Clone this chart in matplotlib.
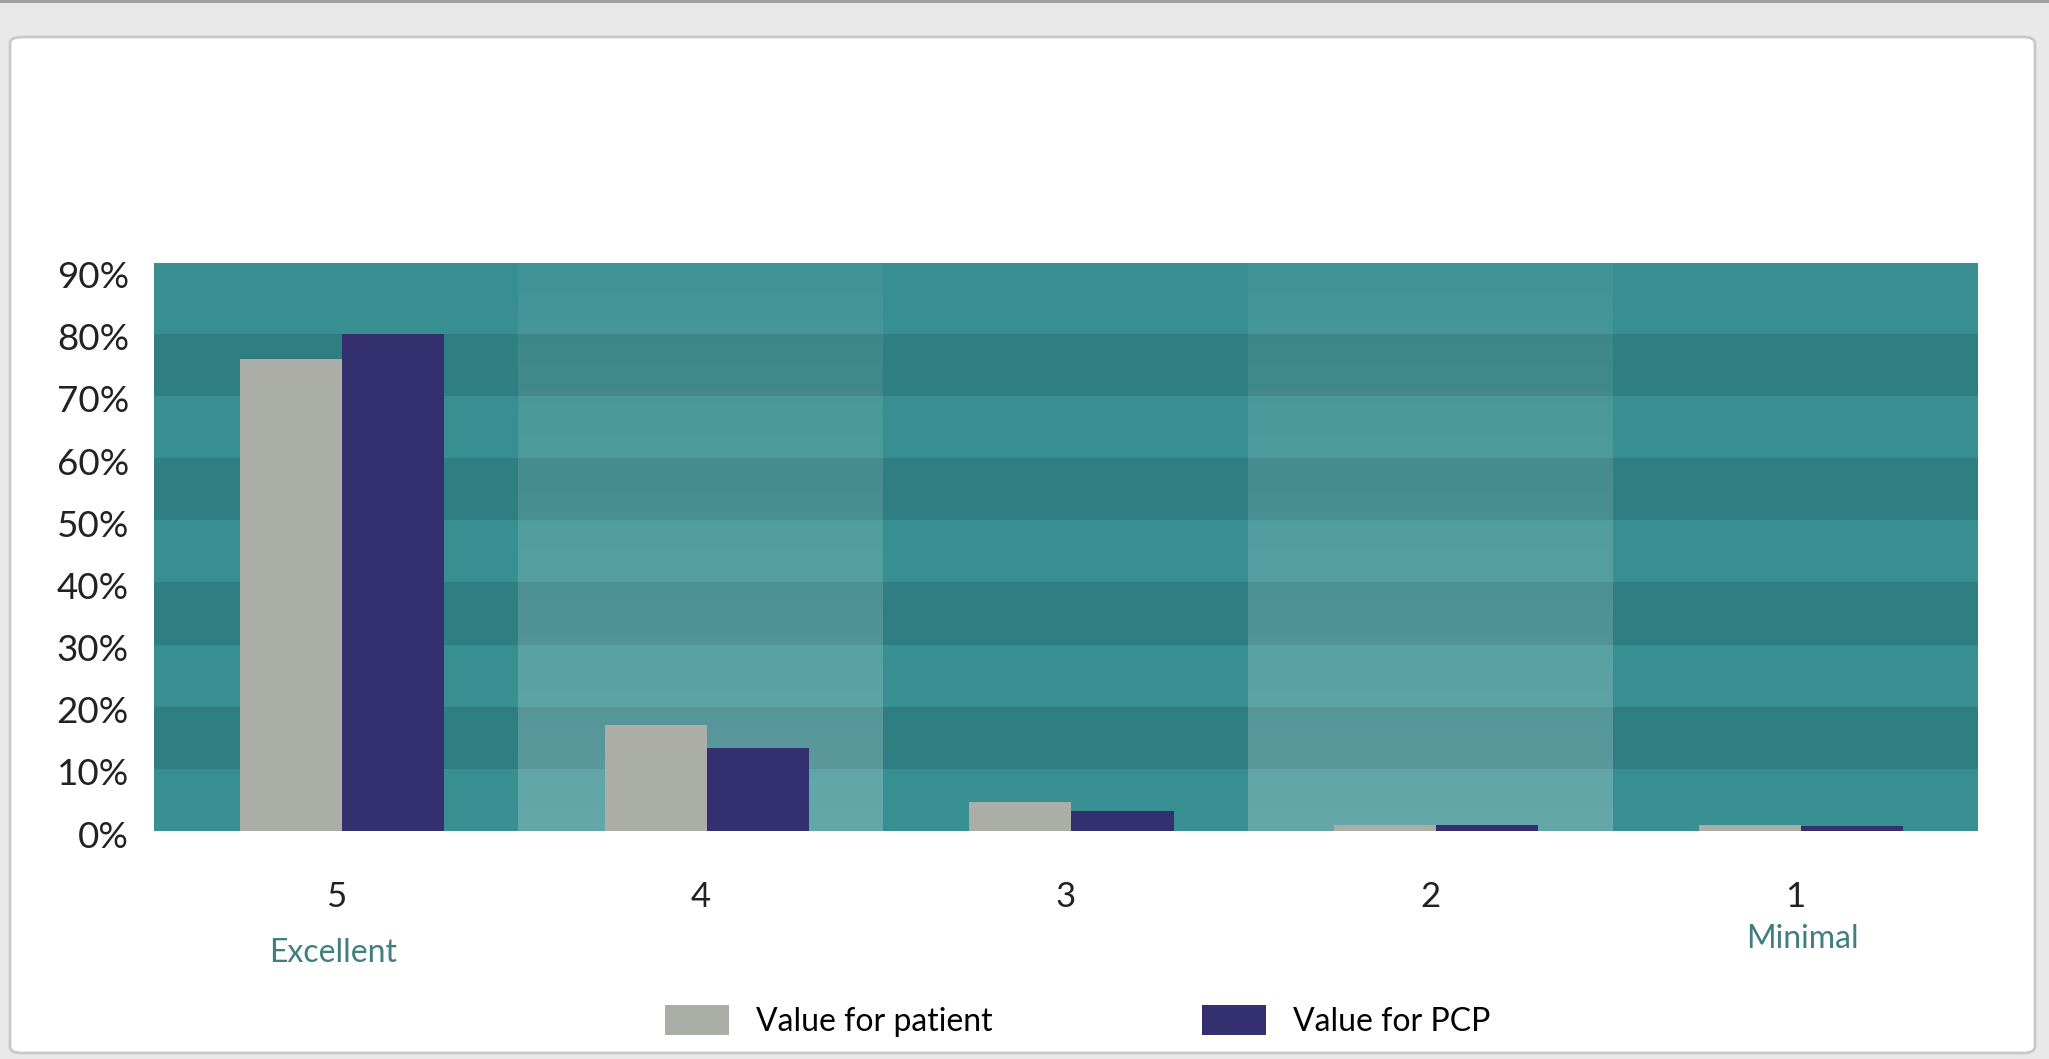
import numpy as np
import matplotlib
matplotlib.use("Agg")
import matplotlib.pyplot as plt
from matplotlib.patches import FancyBboxPatch, Rectangle
from matplotlib.colors import to_rgb
from matplotlib.transforms import ScaledTranslation

plt.rcParams['font.family'] = ['Lato', 'DejaVu Sans']

ratings = ["5", "4", "3", "2", "1"]
patient = [76, 17, 4.7, 1.0, 0.9]
pcp = [80, 13.3, 3.2, 1.0, 0.8]
yticks = [0, 10, 20, 30, 40, 50, 60, 70, 80, 90]
ytop = 91.4

c_patient = "#abaea7"
c_pcp = "#343070"
c_light = to_rgb("#378f91")
c_dark = to_rgb("#2f7e82")

fig = plt.figure(figsize=(20.49, 10.59), dpi=100, facecolor="#e9e9e9")

# white card behind the chart
card = FancyBboxPatch((10 / 2049, 1 - 1053 / 1059), 2025 / 2049, 1016 / 1059,
                      boxstyle="round,pad=0,rounding_size=0.006",
                      transform=fig.transFigure, facecolor="white",
                      edgecolor="#c9c9c9", linewidth=2, zorder=-2)
fig.patches.append(card)
fig.patches.append(Rectangle((0, 1 - 3 / 1059), 1, 3 / 1059, transform=fig.transFigure,
                             facecolor="#a0a0a0", edgecolor="none", zorder=-2))

ax = fig.add_axes([154 / 2049, 1 - 831 / 1059, 1824 / 2049, 568 / 1059])
ax.patch.set_visible(False)
ax.set_xlim(-0.5, len(ratings) - 0.5)
ax.set_ylim(0, ytop)

# striped background, columns 4 and 2 washed out towards the bottom
rows = 914
yv = (np.arange(rows) + 0.5) / rows * ytop
img = np.zeros((rows, len(ratings), 3))
for j in range(len(ratings)):
    for i, y in enumerate(yv):
        band = min(int(y // 10), 8)
        base = np.array(c_light if band % 2 == 0 else c_dark)
        if j % 2 == 1:
            t = 0.05 + 0.2 * (1 - y / ytop)
            base = base * (1 - t) + np.array([0.93, 0.95, 0.96]) * t
        img[i, j] = base
ax.imshow(img, extent=(-0.5, len(ratings) - 0.5, 0, ytop), origin="lower",
          aspect="auto", interpolation="nearest", zorder=0)

x = np.arange(len(ratings))
w = 0.28
ax.bar(x - w / 2 + 0.015, patient, width=w, color=c_patient, label="Value for patient", zorder=2)
ax.bar(x + w / 2 + 0.015, pcp, width=w, color=c_pcp, label="Value for PCP", zorder=2)

for s in ax.spines.values():
    s.set_visible(False)
ax.set_xticks(x)
ax.set_xticklabels(ratings)
ax.set_yticks(yticks)
ax.set_yticklabels([f"{v}%" for v in yticks])
ax.tick_params(axis="x", length=0, pad=36, labelsize=25, labelcolor="#222222")
ax.tick_params(axis="y", length=0, pad=18, labelsize=26.5, labelcolor="#222222")
shift = ScaledTranslation(0, -3 / 100, fig.dpi_scale_trans)
for lbl in ax.get_yticklabels():
    lbl.set_transform(lbl.get_transform() + shift)

ax.text(-0.01, -0.215, "Excellent", transform=ax.get_xaxis_transform(),
        ha="center", va="center", fontsize=23, color="#3f7f80")
ax.text(4.02, -0.19, "Minimal", transform=ax.get_xaxis_transform(),
        ha="center", va="center", fontsize=23, color="#3f7f80")

fig.legend(loc="center", bbox_to_anchor=(0.526, 1 - 1021 / 1059), ncol=2,
           frameon=False, fontsize=23, handlelength=2.0, handleheight=1.05,
           handletextpad=0.85, columnspacing=6.55)

fig.savefig("out.png", dpi=100, facecolor=fig.get_facecolor())
